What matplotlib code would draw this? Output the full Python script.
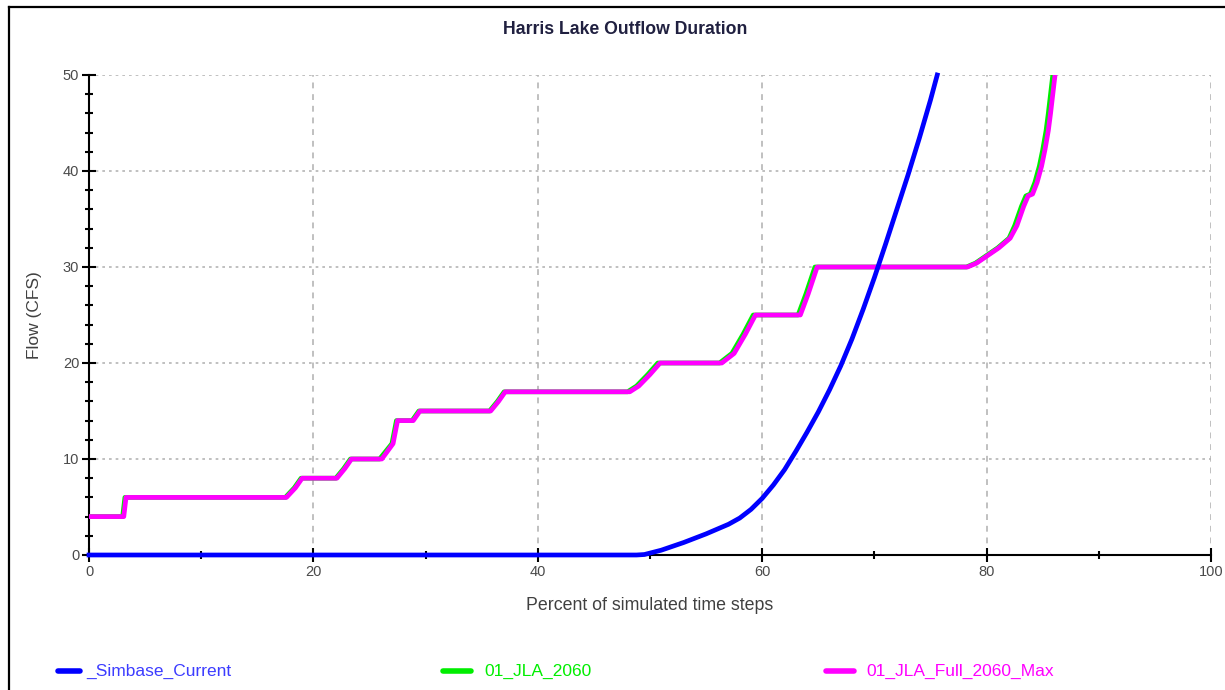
import matplotlib
matplotlib.use("Agg")
import matplotlib.pyplot as plt
from matplotlib.lines import Line2D
from matplotlib.ticker import MultipleLocator

plt.rcParams['font.family'] = ['Liberation Sans', 'DejaVu Sans']

# Flow-duration curves (percent of time steps vs. flow in CFS)
simbase_x = [0, 48.8, 49.5, 50, 51, 52, 53, 54, 55, 56, 57, 58, 59, 60, 61,
             62, 63, 64, 65, 66, 67, 68, 69, 70, 71, 72, 73, 74, 75, 75.6]
simbase_y = [0, 0, 0.05, 0.2, 0.5, 0.9, 1.3, 1.75, 2.2, 2.7, 3.2, 3.85, 4.75,
             5.9, 7.3, 8.9, 10.8, 12.8, 14.9, 17.2, 19.7, 22.5, 25.6, 28.9,
             32.4, 36.0, 39.6, 43.4, 47.4, 50.0]

jla_2060_x = [0, 3.0, 3.2, 17.5, 18.3, 18.9, 22.0, 22.7, 23.3, 25.9, 27.0,
              27.4, 28.8, 29.4, 35.7, 36.4, 37.0, 48.0, 48.8, 49.8, 50.7,
              56.2, 57.3, 58.3, 59.2, 63.2, 63.9, 64.7, 78.2, 79.0, 80.0,
              81.0, 82.0, 82.5, 83.1, 83.5, 83.9, 84.3, 84.7, 85.0, 85.3,
              85.5, 85.7, 85.9]
jla_2060_y = [4, 4, 6, 6, 7, 8, 8, 9, 10, 10, 11.6, 14, 14, 15, 15, 16, 17,
              17, 17.6, 18.8, 20, 20, 21, 23, 25, 25, 27.2, 30, 30, 30.4,
              31.2, 32.0, 33.0, 34.3, 36.3, 37.4, 37.6, 38.8, 40.5, 42.2,
              44.2, 46.0, 48.0, 50.0]

jla_full_x = [0, 3.1, 3.3, 17.6, 18.4, 19.0, 22.1, 22.8, 23.4, 26.1, 27.1,
              27.5, 28.9, 29.5, 35.8, 36.5, 37.1, 48.2, 49.0, 50.0, 50.9,
              56.4, 57.5, 58.5, 59.4, 63.4, 64.1, 64.9, 78.3, 79.1, 80.1,
              81.1, 82.1, 82.7, 83.3, 83.7, 84.1, 84.5, 84.9, 85.2, 85.5,
              85.7, 85.9, 86.1]
jla_full_y = [4, 4, 6, 6, 7, 8, 8, 9, 10, 10, 11.6, 14, 14, 15, 15, 16, 17,
              17, 17.6, 18.8, 20, 20, 21, 23, 25, 25, 27.2, 30, 30, 30.4,
              31.2, 32.0, 33.0, 34.3, 36.3, 37.4, 37.6, 38.8, 40.5, 42.2,
              44.2, 46.0, 48.0, 50.0]

series_names = ['_Simbase_Current', '01_JLA_2060', '01_JLA_Full_2060_Max']
series_colors = ['#0000ff', '#00ee00', '#ff00ff']
label_colors = ['#3c3cff', '#00ee00', '#ff00ff']

x_ticks = [0, 20, 40, 60, 80, 100]
y_ticks = [0, 10, 20, 30, 40, 50]

W, H = 1225, 690
fig = plt.figure(figsize=(W / 100, H / 100), dpi=100)
fig.patch.set_facecolor('white')

# Outer frame (left and top edges)
fig.add_artist(Line2D([9 / W, 9 / W], [0, 1 - 7 / H], transform=fig.transFigure,
                      color='black', lw=1.6))
fig.add_artist(Line2D([9 / W, 1], [1 - 7 / H, 1 - 7 / H], transform=fig.transFigure,
                      color='black', lw=1.6))

ax = fig.add_axes([89 / W, (H - 555) / H, (1211 - 89) / W, (555 - 75) / H])
ax.set_xlim(0, 100)
ax.set_ylim(0, 50)

for spine in ('top', 'right'):
    ax.spines[spine].set_visible(False)
for spine in ('left', 'bottom'):
    ax.spines[spine].set_linewidth(1.5)
    ax.spines[spine].set_color('black')

# Grid: dotted horizontals, dashed verticals
for yv in y_ticks[1:]:
    ax.plot([0, 100], [yv, yv], color='#b5b5b5', lw=1.2,
            linestyle=(0, (1.6, 2.4)), zorder=1)
for xv in x_ticks[1:]:
    ax.plot([xv, xv], [0, 50], color='#b5b5b5', lw=1.2,
            linestyle=(0, (3.5, 3.5)), zorder=1)

ax.set_xticks(x_ticks)
ax.set_yticks(y_ticks)
ax.xaxis.set_minor_locator(MultipleLocator(10))
ax.yaxis.set_minor_locator(MultipleLocator(2))
ax.tick_params(axis='both', which='major', direction='inout', length=10, width=1.5,
               color='black', labelsize=10.5, labelcolor='#4a4a4a', pad=2)
ax.tick_params(axis='both', which='minor', direction='inout', length=6, width=1.5,
               color='black')

ax.plot(jla_2060_x, jla_2060_y, color=series_colors[1], lw=3.4, zorder=3,
        solid_joinstyle='round')
ax.plot(jla_full_x, jla_full_y, color=series_colors[2], lw=3.4, zorder=4,
        solid_joinstyle='round')
ax.plot(simbase_x, simbase_y, color=series_colors[0], lw=3.4, zorder=5,
        clip_on=False, solid_joinstyle='round')

fig.text(625 / W, 1 - 29 / H, 'Harris Lake Outflow Duration', ha='center', va='center',
         fontsize=12.7, fontweight='bold', color='#202040')
fig.text(650 / W, 1 - 606 / H, 'Percent of simulated time steps', ha='center', va='center',
         fontsize=12.8, color='#404040')
fig.text(35 / W, 1 - 315 / H, 'Flow (CFS)', ha='center', va='center', rotation=90,
         fontsize=12.5, color='#404040')

# Legend row along the bottom
legend_line_x = [(58, 80), (443, 471), (826, 854)]
legend_text_x = [86, 484, 866]
ly = 1 - 671 / H
for (x0, x1), tx, name, col, tcol in zip(legend_line_x, legend_text_x, series_names,
                                          series_colors, label_colors):
    fig.add_artist(Line2D([x0 / W, x1 / W], [ly, ly], transform=fig.transFigure,
                          color=col, lw=4, solid_capstyle='round'))
    fig.text(tx / W, ly, name, ha='left', va='center', fontsize=12.5, color=tcol)

fig.savefig('out.png', dpi=100)
